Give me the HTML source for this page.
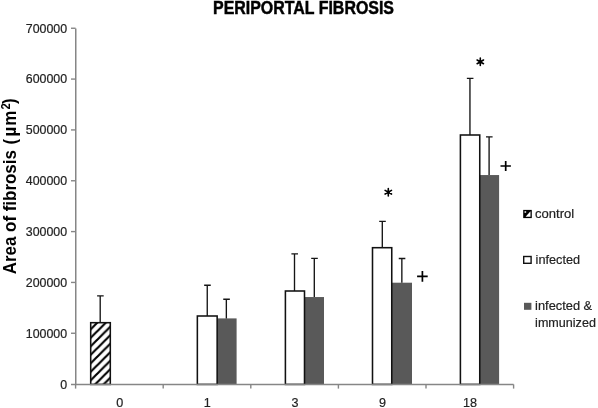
<!DOCTYPE html>
<html><head><meta charset="utf-8"><style>
html,body{margin:0;padding:0;background:#fff;width:598px;height:408px;overflow:hidden;font-family:"Liberation Sans",sans-serif;}
svg{display:block;will-change:transform;}
svg text{font-family:"Liberation Sans",sans-serif;}
</style></head><body>
<svg width="598" height="408" viewBox="0 0 598 408">
<defs><pattern id="hp" patternUnits="userSpaceOnUse" width="8.5" height="8.5" patternTransform="translate(3.5,0)">
<rect width="8.5" height="8.5" fill="#fff"/>
<path d="M-2,10.5 L10.5,-2 M-2,2 L2,-2 M6.5,10.5 L10.5,6.5" stroke="#000" stroke-width="2.15"/>
</pattern></defs>
<rect x="217.15" y="318.40" width="19.45" height="66.00" fill="#595959"/>
<rect x="304.50" y="297.05" width="19.50" height="87.35" fill="#595959"/>
<rect x="391.75" y="282.70" width="20.25" height="101.70" fill="#595959"/>
<rect x="479.75" y="175.05" width="19.35" height="209.35" fill="#595959"/>
<rect x="90.70" y="322.70" width="19.60" height="61.70" fill="url(#hp)" stroke="#111" stroke-width="1.55"/>
<rect x="197.35" y="316.00" width="19.80" height="68.40" fill="#fff" stroke="#111" stroke-width="1.55"/>
<rect x="285.40" y="291.00" width="19.10" height="93.40" fill="#fff" stroke="#111" stroke-width="1.55"/>
<rect x="372.50" y="247.70" width="19.25" height="136.70" fill="#fff" stroke="#111" stroke-width="1.55"/>
<rect x="460.40" y="135.00" width="19.35" height="249.40" fill="#fff" stroke="#111" stroke-width="1.55"/>
<path d="M100.20,322.70 V295.90 M97.10,295.90 H103.70" stroke="#151515" stroke-width="1.35" fill="none"/>
<path d="M207.25,316.00 V285.25 M204.15,285.25 H210.75" stroke="#151515" stroke-width="1.35" fill="none"/>
<path d="M226.35,318.40 V299.25 M223.25,299.25 H229.85" stroke="#151515" stroke-width="1.35" fill="none"/>
<path d="M294.50,291.00 V253.90 M291.40,253.90 H298.00" stroke="#151515" stroke-width="1.35" fill="none"/>
<path d="M314.30,297.05 V258.40 M311.20,258.40 H317.80" stroke="#151515" stroke-width="1.35" fill="none"/>
<path d="M382.30,247.70 V221.30 M379.20,221.30 H385.80" stroke="#151515" stroke-width="1.35" fill="none"/>
<path d="M401.85,282.70 V258.45 M398.75,258.45 H405.35" stroke="#151515" stroke-width="1.35" fill="none"/>
<path d="M469.95,135.00 V78.30 M466.85,78.30 H473.45" stroke="#151515" stroke-width="1.35" fill="none"/>
<path d="M489.10,175.05 V136.85 M486.00,136.85 H492.60" stroke="#151515" stroke-width="1.35" fill="none"/>
<path d="M75.75,28.60 V384.40" stroke="#868686" stroke-width="1.5" fill="none"/>
<path d="M71,333.26 H75.60" stroke="#868686" stroke-width="1.4"/>
<path d="M71,282.43 H75.60" stroke="#868686" stroke-width="1.4"/>
<path d="M71,231.59 H75.60" stroke="#868686" stroke-width="1.4"/>
<path d="M71,180.76 H75.60" stroke="#868686" stroke-width="1.4"/>
<path d="M71,129.92 H75.60" stroke="#868686" stroke-width="1.4"/>
<path d="M71,79.08 H75.60" stroke="#868686" stroke-width="1.4"/>
<path d="M71,28.25 H75.60" stroke="#868686" stroke-width="1.4"/>
<path d="M71,384.40 H513.60" stroke="#868686" stroke-width="1.5"/>
<path d="M75.60,384.40 V388.6" stroke="#868686" stroke-width="1.4"/>
<path d="M163.20,384.40 V388.6" stroke="#868686" stroke-width="1.4"/>
<path d="M250.80,384.40 V388.6" stroke="#868686" stroke-width="1.4"/>
<path d="M338.40,384.40 V388.6" stroke="#868686" stroke-width="1.4"/>
<path d="M426.00,384.40 V388.6" stroke="#868686" stroke-width="1.4"/>
<path d="M513.60,384.40 V388.6" stroke="#868686" stroke-width="1.4"/>
<text x="67.1" y="388.50" text-anchor="end" font-family="Liberation Sans" font-size="12.4" fill="#222" stroke="#222" stroke-width="0.2">0</text>
<text x="67.1" y="337.66" text-anchor="end" font-family="Liberation Sans" font-size="12.4" fill="#222" stroke="#222" stroke-width="0.2">100000</text>
<text x="67.1" y="286.83" text-anchor="end" font-family="Liberation Sans" font-size="12.4" fill="#222" stroke="#222" stroke-width="0.2">200000</text>
<text x="67.1" y="235.99" text-anchor="end" font-family="Liberation Sans" font-size="12.4" fill="#222" stroke="#222" stroke-width="0.2">300000</text>
<text x="67.1" y="185.16" text-anchor="end" font-family="Liberation Sans" font-size="12.4" fill="#222" stroke="#222" stroke-width="0.2">400000</text>
<text x="67.1" y="134.32" text-anchor="end" font-family="Liberation Sans" font-size="12.4" fill="#222" stroke="#222" stroke-width="0.2">500000</text>
<text x="67.1" y="83.48" text-anchor="end" font-family="Liberation Sans" font-size="12.4" fill="#222" stroke="#222" stroke-width="0.2">600000</text>
<text x="67.1" y="32.65" text-anchor="end" font-family="Liberation Sans" font-size="12.4" fill="#222" stroke="#222" stroke-width="0.2">700000</text>
<text x="119.70" y="406.5" text-anchor="middle" font-family="Liberation Sans" font-size="12.6" fill="#222" stroke="#222" stroke-width="0.2">0</text>
<text x="207.30" y="406.5" text-anchor="middle" font-family="Liberation Sans" font-size="12.6" fill="#222" stroke="#222" stroke-width="0.2">1</text>
<text x="294.90" y="406.5" text-anchor="middle" font-family="Liberation Sans" font-size="12.6" fill="#222" stroke="#222" stroke-width="0.2">3</text>
<text x="382.50" y="406.5" text-anchor="middle" font-family="Liberation Sans" font-size="12.6" fill="#222" stroke="#222" stroke-width="0.2">9</text>
<text x="470.10" y="406.5" text-anchor="middle" font-family="Liberation Sans" font-size="12.6" fill="#222" stroke="#222" stroke-width="0.2">18</text>
<text x="213" y="14" font-family="Liberation Sans" font-weight="bold" font-size="17.5" textLength="181" lengthAdjust="spacingAndGlyphs" fill="#000" stroke="#000" stroke-width="0.45">PERIPORTAL FIBROSIS</text>
<text transform="translate(15.9,274.2) rotate(-90) scale(0.94,1)" x="0" y="0" font-family="Liberation Sans" font-weight="bold" font-size="18" fill="#000">Area of fibrosis <tspan x="138.1">(</tspan><tspan x="146.6">µ</tspan><tspan x="158.0">m</tspan><tspan x="175.1" font-size="12" dy="-6.1">2</tspan><tspan x="181.1" dy="5.2">)</tspan></text>
<path d="M388.30,188.50 L388.30,195.90 M385.10,190.35 L391.50,194.05 M385.10,194.05 L391.50,190.35 " stroke="#000" stroke-width="1.6" stroke-linecap="round" fill="none"/><circle cx="388.3" cy="192.2" r="1.6" fill="#000"/>
<path d="M480.30,58.15 L480.30,65.55 M477.10,60.00 L483.50,63.70 M477.10,63.70 L483.50,60.00 " stroke="#000" stroke-width="1.6" stroke-linecap="round" fill="none"/><circle cx="480.3" cy="61.85" r="1.6" fill="#000"/>
<path d="M417.10,276.40 H427.70 M422.40,271.10 V281.70" stroke="#000" stroke-width="1.7" fill="none"/>
<path d="M500.50,166.00 H510.90 M505.70,160.90 V171.10" stroke="#000" stroke-width="1.7" fill="none"/>
<rect x="523.2" y="209.9" width="8.6" height="8.2" fill="#000"/>
<path d="M525.6,216.7 L530.5,216.7 L530.5,211.3 Z" fill="#fff"/><circle cx="525.3" cy="211.9" r="1.0" fill="#ccc"/>
<rect x="523.7" y="256.5" width="7.4" height="6.8" fill="#fff" stroke="#111" stroke-width="1.4"/>
<rect x="524" y="302.8" width="7.4" height="7" fill="#595959"/>
<text x="535" y="218.2" font-family="Liberation Sans" font-size="13" fill="#222" stroke="#222" stroke-width="0.2" textLength="39.2" lengthAdjust="spacingAndGlyphs">control</text>
<text x="535.6" y="263.9" font-family="Liberation Sans" font-size="13" fill="#222" stroke="#222" stroke-width="0.2" textLength="44.5" lengthAdjust="spacingAndGlyphs">infected</text>
<text x="535.1" y="309.7" font-family="Liberation Sans" font-size="13" fill="#222" stroke="#222" stroke-width="0.2" textLength="57.1" lengthAdjust="spacingAndGlyphs">infected &amp;</text>
<text x="535.1" y="327.1" font-family="Liberation Sans" font-size="13" fill="#222" stroke="#222" stroke-width="0.2" textLength="60.8" lengthAdjust="spacingAndGlyphs">immunized</text>
</svg>
</body></html>
